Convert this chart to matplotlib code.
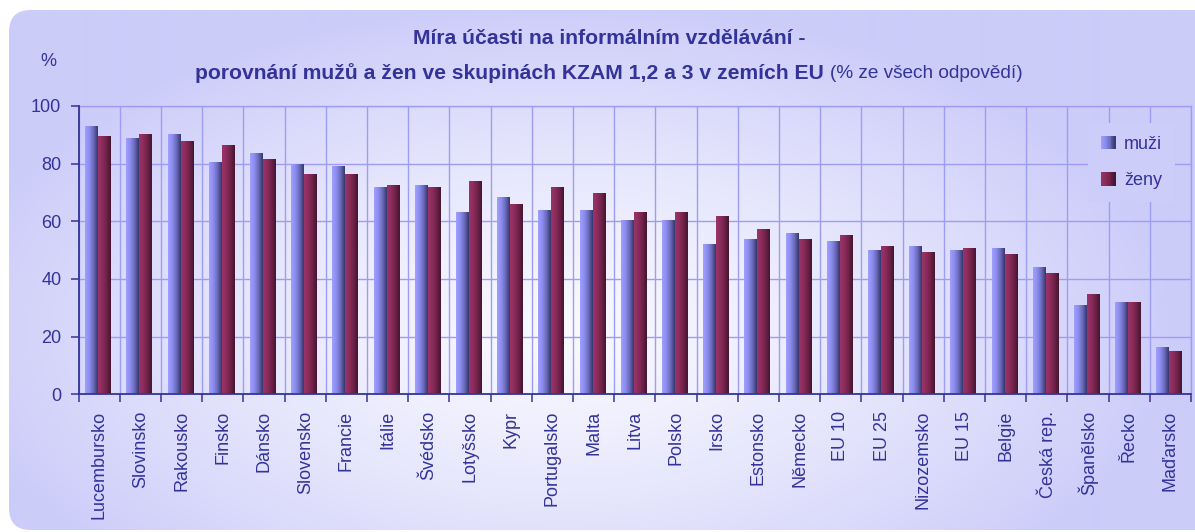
import numpy as np
import matplotlib
matplotlib.use("Agg")
import matplotlib.pyplot as plt
from matplotlib import font_manager as fm
from matplotlib.patches import FancyBboxPatch, Rectangle
from matplotlib.colors import LinearSegmentedColormap
from matplotlib.legend_handler import HandlerBase

categories = ['Lucembursko', 'Slovinsko', 'Rakousko', 'Finsko', 'Dánsko', 'Slovensko',
              'Francie', 'Itálie', 'Švédsko', 'Lotyšsko', 'Kypr', 'Portugalsko', 'Malta',
              'Litva', 'Polsko', 'Irsko', 'Estonsko', 'Německo', 'EU 10', 'EU 25',
              'Nizozemsko', 'EU 15', 'Belgie', 'Česká rep.', 'Španělsko', 'Řecko', 'Maďarsko']
muzi = [93.1, 88.9, 90.3, 80.6, 83.7, 80.0, 79.2, 71.9, 72.6, 63.2, 68.4, 63.9, 63.9,
        60.3, 60.3, 52.1, 53.9, 56.0, 53.2, 50.1, 51.4, 50.1, 50.8, 44.2, 31.0, 32.0, 16.4]
zeny = [89.6, 90.3, 87.9, 86.5, 81.6, 76.4, 76.4, 72.6, 71.9, 74.0, 66.0, 71.9, 69.8,
        63.2, 63.2, 61.8, 57.3, 53.9, 55.3, 51.4, 49.4, 50.8, 48.7, 42.1, 34.8, 32.0, 15.0]
series_names = ['muži', 'ženy']
yticks = [0, 20, 40, 60, 80, 100]

names = {f.name for f in fm.fontManager.ttflist}
narrow = None
for cand in ('Liberation Sans Narrow', 'Arial Narrow'):
    if cand in names:
        narrow = cand
        break
base = 'Liberation Sans'
plt.rcParams['font.family'] = [base, 'DejaVu Sans']

TXT = '#333399'
GRID = '#9d9df5'
W, H = 1195, 532
fig = plt.figure(figsize=(W / 100, H / 100), dpi=100)
fig.patch.set_facecolor('white')

# background rounded panel with soft gradient
bg = fig.add_axes([0, 0, 1, 1], zorder=-10)
bg.set_xlim(0, W); bg.set_ylim(H, 0); bg.axis('off')
yy, xx = np.mgrid[0:H:2, 0:W:2]
r = np.sqrt(((xx - 560) / 620.0) ** 2 + ((yy - 330) / 330.0) ** 2)
t = np.clip(r, 0, 1) ** 1.3
c_in = np.array([0.975, 0.975, 1.0])
c_out = np.array([0.80, 0.80, 0.98])
img = c_in[None, None, :] * (1 - t[..., None]) + c_out[None, None, :] * t[..., None]
panel = FancyBboxPatch((9, 10), W + 30, 520, boxstyle='round,pad=0,rounding_size=22',
                       transform=bg.transData, facecolor='none', edgecolor='none')
bg.add_patch(panel)
im = bg.imshow(img, extent=(0, W, H, 0), aspect='auto', interpolation='bilinear')
im.set_clip_path(panel)

# main axes
x0, x1 = 78.7 / W, 1191 / W
yb, yt = 1 - 394.3 / H, 1 - 106 / H
ax = fig.add_axes([x0, yb, x1 - x0, yt - yb])
ax.set_facecolor('none')

x = np.arange(len(categories))
bw = 0.315
cm_m = LinearSegmentedColormap.from_list('m', ['#a0a0ff', '#8c8cf0', '#6a6ab8', '#363670'])
cm_z = LinearSegmentedColormap.from_list('z', ['#9a3468', '#8c2c5c', '#6e2248', '#431530'])
grad = np.linspace(0, 1, 64)[None, :]

for vals, off, cmap in ((muzi, -0.1825, cm_m), (zeny, 0.1325, cm_z)):
    bars = ax.bar(x + off, vals, width=bw, facecolor='none', edgecolor='none', zorder=3)
    for p in bars:
        bx, by, bwid, bh = p.get_x(), p.get_y(), p.get_width(), p.get_height()
        gi = ax.imshow(grad, cmap=cmap, extent=(bx, bx + bwid, by, by + bh),
                       aspect='auto', zorder=3, interpolation='bilinear')
        gi.set_clip_path(p)

ax.set_xlim(-0.5, len(categories) - 0.5)
ax.set_ylim(0, 100)
ax.set_aspect('auto')

ax.set_yticks(yticks)
ax.set_yticklabels([str(v) for v in yticks])
ax.set_xticks(x)
ax.set_xticklabels(categories, rotation=90, va='top', ha='center')
ax.set_xticks(np.arange(-0.5, len(categories), 1.0), minor=True)
ax.tick_params(axis='x', which='major', length=0, pad=12, labelsize=13, labelcolor=TXT)
ax.tick_params(axis='x', which='minor', length=5.5, width=1.1, color=TXT, direction='out')
ax.tick_params(axis='y', which='major', length=5.5, width=1.1, color=TXT, pad=7,
               labelsize=13, labelcolor=TXT)
ax.grid(which='minor', axis='x', color=GRID, linewidth=1.0)
ax.grid(which='major', axis='y', color=GRID, linewidth=1.0)
ax.grid(which='major', axis='x', visible=False)
ax.set_axisbelow(True)
for s in ('left', 'bottom'):
    ax.spines[s].set_color(TXT); ax.spines[s].set_linewidth(1.3); ax.spines[s].set_zorder(4)
for s in ('top', 'right'):
    ax.spines[s].set_color(GRID); ax.spines[s].set_linewidth(1.0)


class GradHandler(HandlerBase):
    def __init__(self, cmap):
        super().__init__()
        self.cmap = cmap

    def create_artists(self, legend, orig_handle, xdescent, ydescent, width, height,
                       fontsize, trans):
        n = 16
        arts = []
        for i in range(n):
            arts.append(Rectangle((-xdescent + width * i / n, -ydescent), width / n + 0.3,
                                  height, facecolor=self.cmap((i + 0.5) / n),
                                  edgecolor='none', transform=trans))
        return arts


hm = Rectangle((0, 0), 1, 1)
hz = Rectangle((0, 0), 1, 1)
leg = ax.legend([hm, hz], series_names,
                handler_map={hm: GradHandler(cm_m), hz: GradHandler(cm_z)},
                loc='upper left', bbox_to_anchor=(1088 / W, 1 - 123 / H),
                bbox_transform=fig.transFigure, fontsize=13, labelcolor=TXT,
                frameon=True, facecolor='#cdcdfa', edgecolor='none', framealpha=1,
                fancybox=False, handlelength=0.8, handleheight=0.8, handletextpad=0.5,
                labelspacing=1.05, borderpad=0.7, borderaxespad=0)
leg.set_zorder(5)

# % label
fig.text(48 / W, 1 - 62 / H, '%', ha='center', va='center', fontsize=13, color=TXT)

# title
tfam = [narrow, base, 'DejaVu Sans'] if narrow else [base, 'DejaVu Sans']
tsize_b = 17.5 if narrow else 15.2
tsize_n = 16.0 if narrow else 13.7
fig.text(609 / W, 1 - 39 / H, 'Míra účasti na informálním vzdělávání -', ha='center',
         va='center', fontsize=tsize_b, fontweight='bold', color=TXT, family=tfam)
renderer = fig.canvas.get_renderer()
tb = fig.text(0, 1 - 73 / H, 'porovnání mužů a žen ve skupinách KZAM 1,2 a 3 v zemích EU',
              ha='left', va='center', fontsize=tsize_b, fontweight='bold', color=TXT, family=tfam)
tn = fig.text(0, 1 - 73 / H, '(% ze všech odpovědí)', ha='left', va='center',
              fontsize=tsize_n, color=TXT, family=tfam)
wb = tb.get_window_extent(renderer).width
wn = tn.get_window_extent(renderer).width
gap = 6
total = wb + gap + wn
start = 608.5 - total / 2
tb.set_x(start / W)
tn.set_x((start + wb + gap) / W)

fig.savefig('out.png', dpi=100, facecolor='white')
